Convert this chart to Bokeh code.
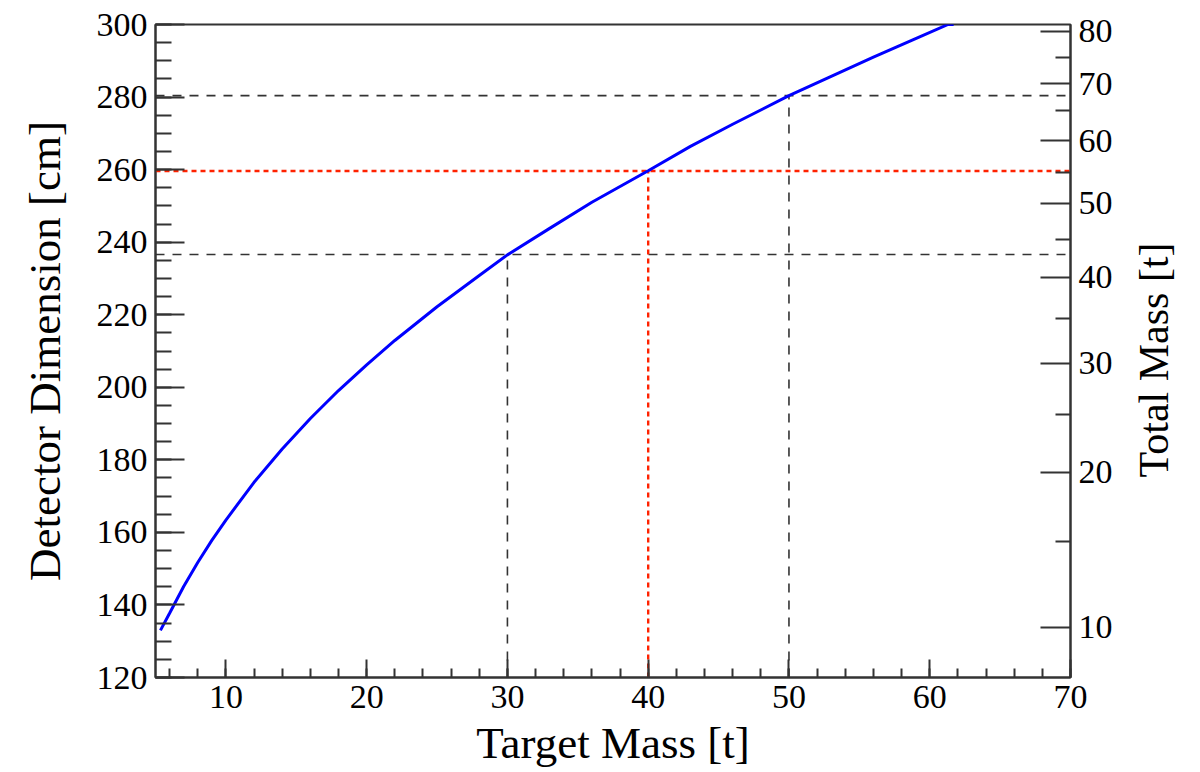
import math
from bokeh.plotting import figure
from bokeh.layouts import row
from bokeh.models import (Range1d, LinearAxis, SingleIntervalTicker, FixedTicker,
                          CustomJSTickFormatter, ColumnDataSource)
from bokeh.core.properties import value
from bokeh.embed import file_html
from bokeh.resources import INLINE

# ---- data ----
target_mass = [5.35, 6, 7, 8, 9, 10, 12, 14, 16, 18, 20, 22, 25, 28, 30, 33, 36,
               40, 43, 46, 50, 53, 56, 59, 61.3, 61.7]
detector_dim = [133.0, 137.7, 145.1, 151.7, 157.8, 163.4, 173.8, 183.0, 191.4, 199.1,
                206.2, 212.9, 222.2, 230.8, 236.5, 243.8, 251.0, 259.7, 266.4, 272.5,
                280.4, 285.7, 291.0, 296.1, 300.0, 300.0]

# reference (black dashed) working points
ref_mass = [30, 50]
ref_dim = [236.6, 280.4]
# selected (red dotted) working point
sel_mass = [40]
sel_dim = [259.6]

# right axis: total mass labels and their detector-dimension positions
total_mass_labels = ["10", "20", "30", "40", "50", "60", "70", "80"]
total_mass_dim = [133.9, 176.6, 206.6, 230.3, 250.7, 268.0, 283.7, 298.1]
total_mass_minor_dim = [157.6, 192.6, 219.0, 240.8, 259.2, 276.3, 290.9]
right_title = "Total Mass [t]"

x_min, x_max = 5, 70
y_min, y_max = 120, 300

FONT = "Liberation Serif"
AX = "#333333"
TITLE_SIZE = "45px"
MAIN_W, SIDE_W, H = 1128, 72, 772
TOP_B, BOT_B = 24, 95

p = figure(width=MAIN_W, height=H, x_range=Range1d(x_min, x_max),
           y_range=Range1d(y_min, y_max), output_backend="svg",
           toolbar_location=None, min_border_left=155, min_border_right=MAIN_W - 1070,
           min_border_top=TOP_B, min_border_bottom=BOT_B)
p.grid.visible = False
p.background_fill_color = "white"
p.border_fill_color = "white"
p.outline_line_color = AX
p.outline_line_width = 2
p.outline_line_alpha = 1

def style_axis(ax, maj_in, min_in):
    ax.axis_line_color = AX
    ax.axis_line_width = 2
    ax.major_tick_line_color = AX
    ax.minor_tick_line_color = AX
    ax.major_tick_line_width = 2
    ax.minor_tick_line_width = 2
    ax.major_tick_in = maj_in
    ax.major_tick_out = 0
    ax.minor_tick_in = min_in
    ax.minor_tick_out = 0
    ax.major_label_text_font = FONT
    ax.major_label_text_font_size = "34px"
    ax.major_label_text_color = "black"
    ax.axis_label_text_font = FONT
    ax.axis_label_text_font_size = TITLE_SIZE
    ax.axis_label_text_font_style = "normal"
    ax.axis_label_text_color = "black"

# left axis
ya = p.yaxis[0]
ya.ticker = SingleIntervalTicker(interval=20, num_minor_ticks=4)
ya.axis_label = "Detector Dimension [cm]"
style_axis(ya, 29, 16)
ya.major_label_standoff = 8
ya.axis_label_standoff = 24

# bottom axis
xa = p.xaxis[0]
xa.ticker = SingleIntervalTicker(interval=10, num_minor_ticks=5)
xa.axis_label = "Target Mass [t]"
style_axis(xa, 18, 9)
xa.major_label_standoff = 8
xa.axis_label_standoff = 7

# right axis: total mass
fmt = CustomJSTickFormatter(args=dict(pos=total_mass_dim, lab=total_mass_labels), code="""
let b = 0, d = 1e9;
for (let i = 0; i < pos.length; i++) { const e = Math.abs(pos[i] - tick); if (e < d) { d = e; b = i; } }
return lab[b];
""")
ra = LinearAxis(ticker=FixedTicker(ticks=total_mass_dim, minor_ticks=total_mass_minor_dim),
                formatter=fmt)
style_axis(ra, 30, 15)
ra.major_label_standoff = 8
p.add_layout(ra, "right")

# guide lines
src_ref = ColumnDataSource(dict(m=ref_mass, d=ref_dim, x0=[x_min] * len(ref_mass),
                                x1=[x_max] * len(ref_mass), y0=[y_min] * len(ref_mass)))
p.segment(x0="x0", y0="d", x1="x1", y1="d", source=src_ref, line_color="#333333",
          line_width=1.6, line_dash="9 8")
p.segment(x0="m", y0="y0", x1="m", y1="d", source=src_ref, line_color="#333333",
          line_width=1.6, line_dash="9 8")

src_sel = ColumnDataSource(dict(m=sel_mass, d=sel_dim, x0=[x_min] * len(sel_mass),
                                x1=[x_max] * len(sel_mass), y0=[y_min] * len(sel_mass)))
p.segment(x0="x0", y0="d", x1="x1", y1="d", source=src_sel, line_color="#ff2200",
          line_width=2.4, line_dash="5 4")
p.segment(x0="m", y0="y0", x1="m", y1="d", source=src_sel, line_color="#ff2200",
          line_width=2.4, line_dash="5 4")

# curve
p.line(target_mass, detector_dim, line_color="#0000ff", line_width=3)

# side strip: right-axis title, reading bottom-to-top.
# Its frame is aligned with the main frame (rows align borders), so map its
# y range to canvas pixels counted from the bottom.
s = figure(width=SIDE_W, height=H, x_range=Range1d(0, SIDE_W),
           y_range=Range1d(BOT_B, H - TOP_B),
           output_backend="svg", toolbar_location=None, min_border=0)
s.axis.visible = False
s.grid.visible = False
s.outline_line_color = None
s.background_fill_color = "white"
s.border_fill_color = "white"
s.text(x=[1153 - MAIN_W], y=[H - 477], text=[right_title], angle=math.pi / 2,
       text_align="left", text_baseline="middle", text_font=value(FONT),
       text_font_size=value("42px"), text_color="black")

layout = row(p, s, spacing=0)
open("out.html", "w").write(file_html(layout, INLINE))
